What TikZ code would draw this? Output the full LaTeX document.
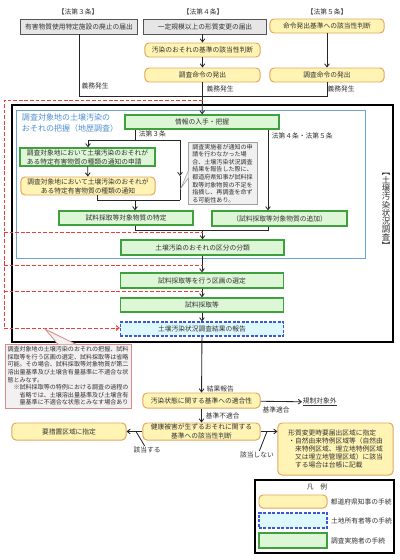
\documentclass[tikz,border=0pt]{standalone}
\usepackage{fontspec}
\setmainfont{Noto Sans CJK JP}
\usetikzlibrary{positioning,arrows.meta}

\definecolor{kenfill}{HTML}{FFF4B3}
\definecolor{kendraw}{HTML}{E3A65E}
\definecolor{jisfill}{HTML}{DDF6D6}
\definecolor{jisdraw}{HTML}{3DA23D}
\definecolor{tochifill}{HTML}{DDF9FF}
\definecolor{tochidraw}{HTML}{3B56D6}
\definecolor{todokefill}{HTML}{E6E6E6}
\definecolor{todokedraw}{HTML}{555555}
\definecolor{akaten}{HTML}{EE3B3B}
\definecolor{aowaku}{HTML}{6FA3D8}
\definecolor{aomoji}{HTML}{4F8FCF}
\definecolor{memodraw}{HTML}{D98C8C}
\definecolor{memofill}{HTML}{F2F0F0}
\definecolor{notedraw}{HTML}{A0A0A0}
\definecolor{notefill}{HTML}{F0F0F0}
\definecolor{moji}{HTML}{333333}

\begin{document}
\begin{tikzpicture}
[x=0.025cm, y=-0.025cm,
    font=\fontsize{4.8}{6.4}\selectfont, text=moji,
    >={Straight Barb[length=2.2pt,width=3.4pt]},
    every node/.style={inner sep=0.5pt, align=center},
    todoke/.style={rectangle, draw=todokedraw, fill=todokefill,
        line width=0.7pt, minimum height=0.375cm},
    chiji/.style={rectangle, rounded corners=2.8pt, draw=kendraw,
        fill=kenfill, line width=0.7pt, minimum height=0.35cm},
    jisshi/.style={rectangle, draw=jisdraw, fill=jisfill,
        line width=1pt, minimum height=0.35cm},
    shoyu/.style={rectangle, draw=tochidraw, fill=tochifill,
        dash pattern=on 2pt off 1.2pt, line width=0.9pt, minimum height=0.35cm},
    flow/.style={draw=black!85, line width=0.6pt},
    akasen/.style={draw=akaten, line width=0.7pt, dash pattern=on 2.6pt off 1.4pt},
    memo/.style={rectangle, font=\fontsize{4.3}{5.4}\selectfont, align=left},
    ]
    \useasboundingbox (0,0) rectangle (400,560);

    % frames of the survey
    \draw[black, line width=1.2pt] (12,105) rectangle (393,342);
    \draw[aowaku, line width=0.6pt] (16,110) rectangle (365,258);
    \node[anchor=north west, align=left, text=aomoji,
          font=\fontsize{5.7}{7.8}\selectfont] (chireki) at (21,113)
          {調査対象地の土壌汚染の\\おそれの把握（地歴調査）};
    % vertical title, one character at a time
    \foreach \c [count=\i] in {\rotatebox[origin=c]{-90}{【},土,壌,汚,染,状,況,調,査,\rotatebox[origin=c]{-90}{】}}
        \node[font=\fontsize{6}{6}\selectfont, inner sep=0pt] (tate\i) at (386,163.8+8.2*\i) {\c};

    % articles
    \node (hd3) at (78,12) {【法第３条】};
    \node (hd4) at (203,12) {【法第４条】};
    \node (hd5) at (327,12) {【法第５条】};

    \node[todoke, minimum width=2.9cm] (hai) at (79,26.5) {有害物質使用特定施設の廃止の届出};
    \node[todoke, minimum width=3.05cm] (keishitsu) at (205,26.5) {一定規模以上の形質変更の届出};
    \node[chiji, minimum width=2.85cm] (meirei) at (327,26) {命令発出基準への該当性判断};
    \node[chiji, minimum width=2.875cm] (osore) at (202.5,50) {汚染のおそれの基準の該当性判断};
    \node[chiji, minimum width=2.875cm] (chousa4) at (202.5,75) {調査命令の発出};
    \node[chiji, minimum width=2.85cm] (chousa5) at (327,75) {調査命令の発出};

    \draw[flow,->] (osore |- keishitsu.south) -- (osore);
    \draw[flow,->] (osore) -- (chousa4);
    \draw[flow,->] (meirei) -- (chousa5);

    \coordinate (g3) at (79,96);
    \coordinate (g4) at (202.5,96);
    \coordinate (g5) at (327,96);
    \draw[flow] (hai) -- (g3) -- (g5) -- (chousa5);
    \draw[flow] (chousa4) -- (g4);
    \node (gimu3) at (95,86) {義務発生};
    \node (gimu4) at (220,88.5) {義務発生};
    \node (gimu5) at (341,88.5) {義務発生};

    % main flow
    \node[jisshi, minimum width=3.85cm] (info) at (202,122) {情報の入手・把握};
    \draw[flow,->] (g4) -- (info);

    \node[jisshi, minimum width=3.375cm, minimum height=0.45cm, align=left] (shinsei) at (87.5,157)
          {調査対象地において土壌汚染のおそれが\\ある特定有害物質の種類の通知の申請};
    \node[chiji, minimum width=3.35cm, minimum height=0.45cm] (tsuchi) at (88,186)
          {調査対象地において土壌汚染のおそれが\\ある特定有害物質の種類の通知};
    \node[jisshi, minimum width=3.35cm] (tokutei) at (126,218) {試料採取等対象物質の特定};
    \node[jisshi, minimum width=3.375cm, minimum height=0.375cm] (tsuika) at (279.5,218.5)
          {（試料採取等対象物質の追加）};
    \node[jisshi, minimum width=4.075cm, minimum height=0.375cm] (kubun) at (202.5,247.5)
          {土壌汚染のおそれの区分の分類};
    \node[jisshi, minimum width=4.075cm, minimum height=0.375cm] (kukaku) at (202,280.5)
          {試料採取等を行う区画の選定};
    \node[jisshi, minimum width=4.075cm] (saishu) at (202,305) {試料採取等};
    \node[shoyu, minimum width=4.075cm] (houkoku) at (202,329) {土壌汚染状況調査結果の報告};

    \coordinate (b3) at (135,140);
    \coordinate (b3l) at (88,140);
    \coordinate (b3r) at (180,140);
    \draw[flow] (info.south -| b3) -- (b3);
    \draw[flow] (b3l) -- (b3r);
    \node[anchor=west] (ho3) at (138,133.5) {法第３条};
    \draw[flow,->] (b3l) -- (b3l |- shinsei.north);
    \draw[flow,->] (shinsei) -- (tsuchi);

    \coordinate (m1) at (97,200);
    \coordinate (m2) at (180,200);
    \coordinate (m3) at (135,200);
    \coordinate (m4) at (180,176);
    \draw[flow] (tsuchi.south -| m1) -- (m1) -- (m2);
    \draw[flow,->] (b3r) -- (m4);
    \draw[flow] (m4) -- (m2);
    \draw[flow,->] (m3) -- (m3 |- tokutei.north);

    \coordinate (b45) at (268,129);
    \draw[flow,->] (info.south -| b45) -- (b45 |- tsuika.north);
    \node[anchor=west] (ho45) at (271,136) {法第４条・法第５条};

    \coordinate (c1) at (135,230);
    \coordinate (c2) at (268,230);
    \coordinate (c3) at (202.5,230);
    \draw[flow] (tokutei.south -| c1) -- (c1) -- (c2) -- (c2 |- tsuika.south);
    \draw[flow,->] (c3) -- (c3 |- kubun.north);
    \draw[flow,->] (kubun.south -| houkoku) -- (kukaku);
    \draw[flow,->] (kukaku) -- (saishu);
    \draw[flow,->] (saishu) -- (houkoku);

    % note on the request
    \node[memo, draw=notedraw, fill=notefill, minimum width=1.725cm, minimum height=1.55cm,
          font=\fontsize{4.3}{5.45}\selectfont] (chuui) at (222.5,173.5)
          {調査実施者が通知の申\\請を行わなかった場\\合、土壌汚染状況調査\\結果を報告した際に、\\都道府県知事が試料採\\取等対象物質の不足を\\指摘し、再調査を命ず\\る可能性あり。};
    \draw[notedraw, fill=notefill, line width=0.4pt] (188.6,170) -- (181,188) -- (188.6,178);

    % skipped steps
    \coordinate (r0) at (202.5,100);
    \coordinate (r1) at (4,100);
    \coordinate (r2) at (4,232);
    \coordinate (r3) at (4,265);
    \coordinate (r4) at (4,291);
    \coordinate (r5) at (4,328);
    \draw[akasen] (r0) -- (r1) -- (r5);
    \draw[akasen] (r2) -- (r2 -| kubun);
    \draw[akasen] (r3) -- (r3 -| kubun);
    \draw[akasen] (r4) -- (r4 -| kubun);
    \draw[akasen,->] (r5) -- (houkoku.west |- r5);

    \node[memo, draw=memodraw, fill=memofill, line width=0.6pt, minimum width=3.15cm,
          minimum height=1.6cm] (shouryaku) at (68,376)
          {調査対象地の土壌汚染のおそれの把握、試料\\採取等を行う区画の選定、試料採取等は省略\\可能。その場合、試料採取等対象物質が第二\\溶出量基準及び土壌含有量基準に不適合な状\\態とみなす。\\　※試料採取等の特例における調査の過程の\\　　省略では、土壌溶出量基準及び土壌含有\\　　量基準に不適合な状態とみなす場合あり};
    \draw[memodraw, fill=memofill, line width=0.6pt] (58,344.3) -- (45,329) -- (76,344.3);

    % after the report
    \node[chiji, minimum width=2.925cm, minimum height=0.375cm] (tekigou) at (201.5,400.5)
          {汚染状態に関する基準への適合性};
    \node[chiji, minimum width=2.925cm, minimum height=0.425cm] (kenkou) at (201.5,431.5)
          {健康被害が生ずるおそれに関する\\基準への該当性判断};
    \node[chiji, minimum width=2.85cm, minimum height=0.425cm] (yousochi) at (69,431.5)
          {要措置区域に指定};
    \node[chiji, minimum width=2.875cm, minimum height=1.3cm, align=left,
          font=\fontsize{4.8}{5.8}\selectfont] (keishitsu2) at (335.5,449)
          {形質変更時要届出区域に指定\\・自然由来特例区域等（自然由\\　来特例区域、埋立地特例区域\\　又は埋立地管理区域）に該当\\　する場合は台帳に記載};
    \node[anchor=west] (kisei) at (302,402) {\underline{規制対象外}};

    \draw[flow,->] (houkoku) -- (tekigou);
    \node[anchor=west] (kekka) at (206,389) {結果報告};
    \draw[flow,->] (tekigou) -- (kisei);
    \node (tekilbl) at (276,409.5) {基準適合};
    \draw[flow,->] (tekigou) -- (kenkou);
    \node[anchor=west] (futeki) at (205,416) {基準不適合};
    \draw[flow,->] (kenkou) -- (yousochi);
    \draw[flow,->] (kenkou.east) -- (kenkou.east -| keishitsu2.west);

    \coordinate (l1) at (136,431.5);
    \coordinate (l2) at (267,431.5);
    \node (gaitou) at (147,450) {該当する};
    \node (higaitou) at (257,455) {該当しない};
    \draw[flow] (l1) -- (gaitou.120);
    \draw[flow] (l2) -- (higaitou.60);

    % legend
    \draw[black, line width=0.9pt] (255,480) rectangle (394,553);
    \node (hanrei) at (317,487) {凡　例};
    \node[chiji, minimum width=1.7cm, minimum height=0.325cm] (lg1) at (293,501.5) {};
    \node[shoyu, minimum width=1.7cm, minimum height=0.375cm] (lg2) at (293,520.5) {};
    \node[jisshi, minimum width=1.7cm, minimum height=0.375cm] (lg3) at (293,540.5) {};
    \node[right=0.06cm of lg1] (lgt1) {都道府県知事の手続};
    \node[right=0.06cm of lg2] (lgt2) {土地所有者等の手続};
    \node[right=0.06cm of lg3] (lgt3) {調査実施者の手続};

\end{tikzpicture}
\end{document}
